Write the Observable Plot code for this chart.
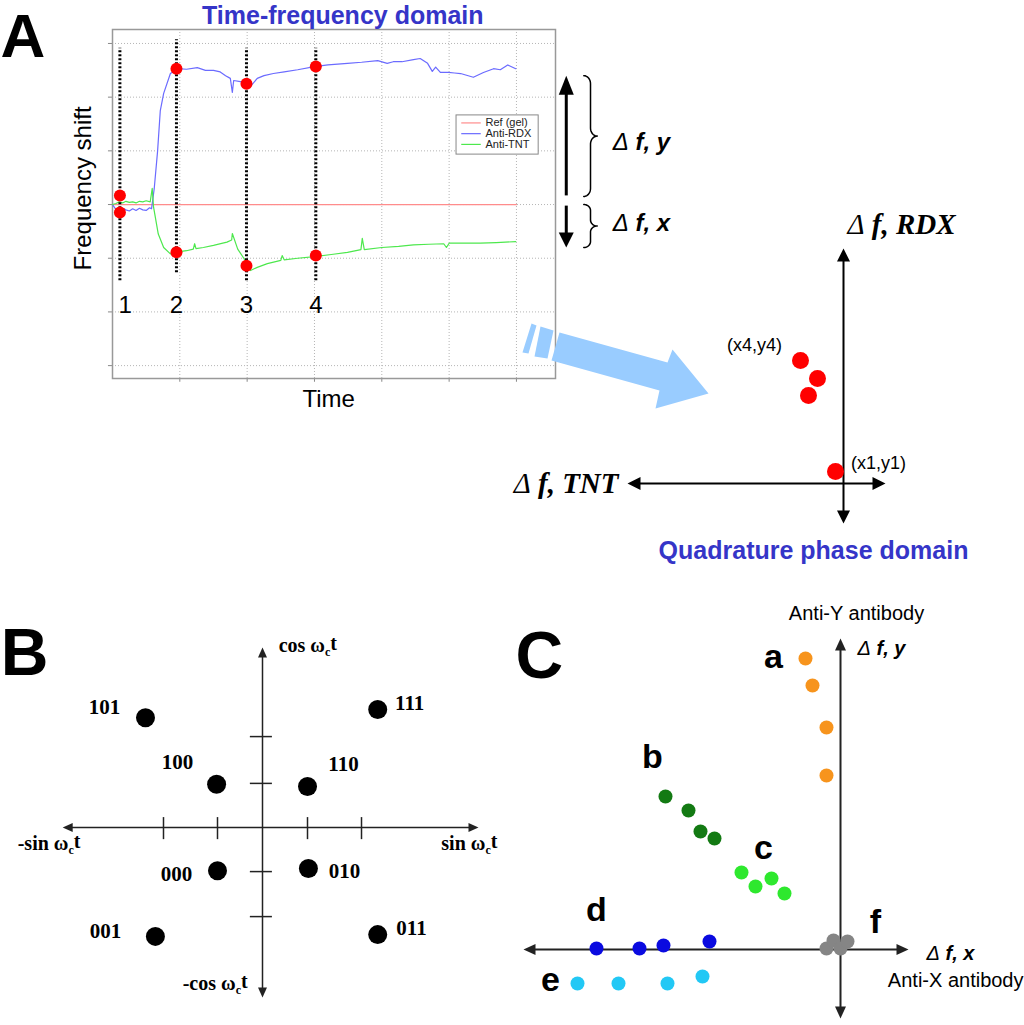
<!DOCTYPE html>
<html><head><meta charset="utf-8">
<script src="https://cdn.jsdelivr.net/npm/d3@7"></script>
<script src="https://cdn.jsdelivr.net/npm/@observablehq/plot@0.6"></script>
<style>
html,body{margin:0;padding:0;background:#fff;overflow:hidden;}
#fig{position:relative;width:1024px;height:1025px;overflow:hidden;}
#fig svg{position:absolute;overflow:visible;background:transparent;max-width:none;}
</style></head><body><div id="fig"></div>
<script>
// ================= DATA =================
// Panel A (left): time-frequency traces, time and shift in grid units
const refTime = [0, 6];
const refShift = [0, 0];
const rdxTime = [0,0.05,0.1,0.15,0.2,0.25,0.3,0.35,0.4,0.45,0.5,0.55,0.58,0.62,0.67,0.71,0.76,0.86,0.97,1.1,1.26,1.38,1.5,1.6,1.68,1.75,1.78,1.8,1.9,1.99,2.05,2.15,2.25,2.39,2.55,2.75,3.0,3.2,3.49,3.7,3.94,4.08,4.17,4.3,4.47,4.57,4.68,4.75,4.8,4.87,4.99,5.08,5.17,5.36,5.51,5.66,5.76,5.87,5.99];
const rdxShift = [0,-0.09,-0.11,-0.07,-0.1,-0.12,-0.08,-0.11,-0.07,-0.1,-0.11,-0.06,-0.08,0.3,1.0,1.75,2.07,2.44,2.53,2.52,2.55,2.5,2.5,2.47,2.4,2.35,2.09,2.31,2.29,2.25,2.2,2.35,2.4,2.44,2.47,2.51,2.57,2.6,2.63,2.65,2.68,2.63,2.66,2.66,2.7,2.72,2.63,2.48,2.56,2.46,2.46,2.45,2.44,2.37,2.46,2.53,2.51,2.6,2.53];
const tntTime = [0,0.05,0.1,0.15,0.2,0.25,0.3,0.35,0.4,0.45,0.5,0.56,0.59,0.61,0.68,0.76,0.86,0.97,1.1,1.2,1.22,1.24,1.35,1.5,1.7,1.77,1.78,1.86,1.95,2.05,2.15,2.3,2.5,2.52,2.55,2.75,3.0,3.25,3.49,3.69,3.71,3.74,4.0,4.25,4.47,4.7,4.92,4.96,5.0,5.2,5.46,5.7,5.99];
const tntShift = [0,0.02,0.05,0.03,0.06,0.04,0.05,0.03,0.06,0.05,0.07,0.05,0.3,-0.05,-0.55,-0.8,-0.92,-0.88,-0.86,-0.83,-0.73,-0.82,-0.8,-0.76,-0.7,-0.66,-0.54,-0.83,-1.0,-1.23,-1.17,-1.1,-1.04,-0.95,-1.03,-1.0,-0.97,-0.93,-0.89,-0.84,-0.63,-0.84,-0.8,-0.78,-0.75,-0.74,-0.73,-0.8,-0.72,-0.72,-0.72,-0.71,-0.69];
const gridTimes = [1, 2, 3, 4, 5, 6];
const gridShifts = [-3, -2, -1, 0, 1, 2, 3];
const sampleLabels = ["1", "2", "3", "4"];
const sampleTime = [0.11, 0.95, 1.99, 3.02];
const sampleLabelTime = [0.19, 0.95, 1.99, 3.02];
const sampleRdx = [-0.15, 2.53, 2.25, 2.57];
const sampleTnt = [0.17, -0.89, -1.14, -0.95];
const markerTop = [2.91, 3.07, 2.91, 2.91];
const markerBottom = [-1.42, -1.27, -1.42, -1.42];
const legendNames = ["Ref (gel)", "Anti-RDX", "Anti-TNT"];
const legendColors = ["#ff8c8c", "#6b6bff", "#4de84d"];

// Panel A (right): quadrature phase domain
const quadX = [-4.3, -2.6, -3.5, -0.8];
const quadY = [12.3, 10.5, 8.8, 1.2];
const quadLabels = ["(x4,y4)", "(x1,y1)"];
const quadLabelX = [-8.9, 3.5];
const quadLabelY = [13.8, 2.0];

// Panel B: 8-point constellation
const constLabels = ["101", "100", "110", "111", "000", "010", "001", "011"];
const constX = [-2.6, -1.02, 1.0, 2.56, -1.0, 1.02, -2.38, 2.56];
const constY = [2.44, 0.96, 0.91, 2.62, -0.96, -0.91, -2.42, -2.38];
const constLabelX = [-3.51, -1.89, 1.8, 3.27, -1.91, 1.82, -3.49, 3.31];
const constLabelY = [2.67, 1.44, 1.4, 2.76, -1.04, -0.98, -2.31, -2.24];
const bTicksX = [-2.2, -1, 1, 2.2];
const bTicksY = [-1.98, -0.98, 0.98, 2.02];

// Panel C: antibody responses
const groupNames = ["a", "b", "c", "d", "e", "f"];
const groupColors = ["#f7941d", "#137a13", "#2ee82e", "#0a0ae0", "#22c8f5", "#858585"];
const groupX = [[-3.5,-2.8,-1.4,-1.4],[-17.5,-15.2,-14.0,-12.6],[-9.9,-8.5,-6.9,-5.6],[-24.4,-20.1,-17.7,-13.1],[-26.3,-22.2,-17.3,-13.8],[-1.4,-0.7,0,0.7]];
const groupY = [[29.1,26.4,22.2,17.4],[15.3,13.9,11.8,11.1],[7.7,6.3,7.1,5.6],[0.1,0.1,0.4,0.8],[-3.4,-3.4,-3.4,-2.7],[0.1,0.9,0.1,0.8]];
const groupLabelX = [-6.7, -18.8, -7.7, -24.4, -29, 3.5];
const groupLabelY = [29.2, 19.2, 10.1, 3.9, -3.1, 2.7];

// ================= HELPERS =================
const SANS = "Liberation Sans, Arial, sans-serif";
const SERIF = "Liberation Serif, Times New Roman, serif";
const STYLE = {fontFamily: SANS, background: "transparent", overflow: "visible"};
const rows = (xs, ys, extra = {}) => xs.map((x, i) => ({x, y: ys[i], ...extra}));

function arrowMarks(list, kx, ky, {headLen, headW, width, color}) {
  const segs = [], tris = [];
  list.forEach((a, i) => {
    const dxp = (a.x2 - a.x1) * kx, dyp = (a.y2 - a.y1) * ky;
    const L = Math.hypot(dxp, dyp), ux = dxp / L, uy = dyp / L;
    const head = (tx, ty, sx, sy, id) => {
      const bx = tx - sx * headLen / kx, by = ty - sy * headLen / ky;
      const px = -sy * headW / 2, py = sx * headW / 2;
      tris.push({x: tx, y: ty, id}, {x: bx + px / kx, y: by + py / ky, id}, {x: bx - px / kx, y: by - py / ky, id});
      return {x: tx - sx * headLen * 0.6 / kx, y: ty - sy * headLen * 0.6 / ky};
    };
    const e = head(a.x2, a.y2, ux, uy, "e" + i);
    const s = a.both ? head(a.x1, a.y1, -ux, -uy, "s" + i) : {x: a.x1, y: a.y1};
    segs.push({x1: s.x, y1: s.y, x2: e.x, y2: e.y});
  });
  return [
    Plot.link(segs, {x1: "x1", y1: "y1", x2: "x2", y2: "y2", stroke: color, strokeWidth: width}),
    Plot.line(tris, {x: "x", y: "y", z: "id", fill: color, stroke: "none"})
  ];
}

function bracePts(x0, x1, yTop, yBot, ry, id) {
  const xm = (x0 + x1) / 2, ym = (yTop + yBot) / 2, rx = (x1 - x0) / 2, pts = [];
  const arc = (cx, cy, a0, a1) => {
    for (let i = 0; i <= 10; i++) {
      const a = (a0 + (a1 - a0) * i / 10) * Math.PI / 180;
      pts.push({x: cx + rx * Math.cos(a), y: cy + ry * Math.sin(a), id});
    }
  };
  arc(x0, yTop - ry, 90, 0);
  arc(x1, ym + ry, 180, 270);
  arc(x1, ym - ry, 90, 180);
  arc(x0, yBot + ry, 0, -90);
  return pts;
}

function fixText(svg) {
  d3.select(svg).selectAll("text").each(function () {
    const el = d3.select(this);
    const s = this.textContent;
    if (s.includes("ωct")) {
      const [pre, post] = s.split("ωct");
      el.text(null);
      el.append("tspan").text(pre + "ω");
      el.append("tspan").attr("font-size", "60%").attr("dy", "0.3em").text("c");
      el.append("tspan").attr("dy", "-0.3em").text("t" + post);
    } else if (s.startsWith("Δ")) {
      el.text(null);
      el.append("tspan").attr("font-weight", "normal").text("Δ");
      el.append("tspan").text(s.slice(1));
    }
  });
}

function place(svg, left, top) {
  fixText(svg);
  svg.style.left = left + "px";
  svg.style.top = top + "px";
  document.getElementById("fig").appendChild(svg);
}

// ================= PANEL A (left) =================
{
  const kx = 67.33, ky = 53.67;
  const ref = rows(refTime, refShift);
  const rdx = rows(rdxTime, rdxShift);
  const tnt = rows(tntTime, tntShift);
  const markers = sampleTime.map((t, i) => ({t, top: markerTop[i], bottom: markerBottom[i]}));
  const dots = [...rows(sampleTime, sampleRdx), ...rows(sampleTime, sampleTnt)];
  const legend = legendNames.map((n, i) => ({n, c: legendColors[i], y: [1.52, 1.32, 1.12][i]}));
  const braces = [...bracePts(7.0, 7.2, 2.40, 0.15, 0.15, "b1"), ...bracePts(7.0, 7.2, 0.0, -0.80, 0.11, "b2")];
  const svg = Plot.plot({
    width: 720, height: 420, marginLeft: 112, marginTop: 29, marginRight: 165, marginBottom: 42,
    x: {domain: [0, 6.58], axis: null},
    y: {domain: [-3.24, 3.26], axis: null},
    color: {type: "identity"},
    style: STYLE,
    marks: [
      Plot.ruleX(gridTimes, {y1: -3.24, y2: 3.26, stroke: "#b5b5b5", strokeDasharray: "1,2"}),
      Plot.ruleY(gridShifts, {x1: 0, x2: 6.58, stroke: "#b5b5b5", strokeDasharray: "1,2"}),
      Plot.ruleY(gridShifts, {x1: -0.06, x2: 0, stroke: "#888"}),
      Plot.ruleX(gridTimes, {y1: -3.24, y2: -3.31, stroke: "#888"}),
      Plot.frame({stroke: "#999", strokeWidth: 1.5}),
      Plot.line(ref, {x: "x", y: "y", stroke: legendColors[0], strokeWidth: 1.2}),
      Plot.line(rdx, {x: "x", y: "y", stroke: legendColors[1], strokeWidth: 1.2}),
      Plot.line(tnt, {x: "x", y: "y", stroke: legendColors[2], strokeWidth: 1.2}),
      Plot.ruleX(markers, {x: "t", y1: "bottom", y2: "top", stroke: "#000", strokeWidth: 3, strokeDasharray: "2,2"}),
      Plot.dot(dots, {x: "x", y: "y", r: 6, fill: "#ff0000"}),
      Plot.text(sampleLabels, {x: (d, i) => sampleLabelTime[i], y: -1.88, text: d => d, fontSize: 24, fill: "#000"}),
      Plot.rect([0], {x1: 5.11, x2: 6.33, y1: 0.93, y2: 1.66, fill: "white", stroke: "#888"}),
      Plot.link(legend, {x1: 5.18, x2: 5.47, y1: "y", y2: "y", stroke: "c", strokeWidth: 1.2}),
      Plot.text(legend, {x: 5.54, y: "y", text: "n", textAnchor: "start", fontSize: 11, fill: "#222"}),
      Plot.text(["Frequency shift"], {x: -0.43, y: 0.3, text: d => d, rotate: -90, fontSize: 24, fill: "#000"}),
      Plot.text(["Time"], {x: 3.21, y: -3.63, text: d => d, fontSize: 24, fill: "#000"}),
      Plot.text(["Time-frequency domain"], {x: 3.42, y: 3.52, text: d => d, fontSize: 25, fontWeight: "bold", fill: "#3535c8"}),
      Plot.text(["A"], {x: -1.663, y: 2.757, text: d => d, lineAnchor: "bottom", textAnchor: "start", fontSize: 62, fontWeight: "bold", fill: "#000"}),
      ...arrowMarks([{x1: 6.74, y1: 0.17, x2: 6.74, y2: 2.40}], kx, ky, {headLen: 19, headW: 15, width: 3, color: "#000"}),
      ...arrowMarks([{x1: 6.74, y1: -0.02, x2: 6.74, y2: -0.80}], kx, ky, {headLen: 15, headW: 15, width: 3, color: "#000"}),
      Plot.line(braces, {x: "x", y: "y", z: "id", stroke: "#000", strokeWidth: 1.5}),
      Plot.text(["Δ f, y", "Δ f, x"], {x: 7.43, y: (d, i) => [1.16, -0.35][i], text: d => d, textAnchor: "start", fontSize: 24, fontWeight: "bold", fontStyle: "italic", fill: "#000"})
    ]
  });
  place(svg, 0, 0);
}

// ================= PANEL A (right): quadrature =================
{
  const k = 10;
  const arrowBody = [
    {x: -28.4, y: 15.1}, {x: -17.6, y: 12.1}, {x: -17.1, y: 13.4}, {x: -13.5, y: 9.0},
    {x: -18.8, y: 7.5}, {x: -18.4, y: 9.3}, {x: -29.2, y: 12.3}
  ].map(p => ({...p, id: "body"}));
  const stripe1 = [{x: -31.2, y: 16.0}, {x: -30.7, y: 15.8}, {x: -31.5, y: 13.0}, {x: -32.1, y: 13.1}].map(p => ({...p, id: "s1"}));
  const stripe2 = [{x: -30.3, y: 15.7}, {x: -29.0, y: 15.3}, {x: -29.6, y: 12.5}, {x: -30.9, y: 12.7}].map(p => ({...p, id: "s2"}));
  const svg = Plot.plot({
    width: 534, height: 370, margin: 0,
    x: {domain: [-35.3, 18.1], axis: null},
    y: {domain: [-8.7, 28.3], axis: null},
    style: STYLE,
    marks: [
      Plot.line([...arrowBody, ...stripe1, ...stripe2], {x: "x", y: "y", z: "id", fill: "#99ccff", stroke: "none"}),
      ...arrowMarks([
        {x1: 0, y1: -4.0, x2: 0, y2: 23.5, both: true},
        {x1: -21.6, y1: 0, x2: 4.2, y2: 0, both: true}
      ], k, k, {headLen: 13, headW: 13, width: 2, color: "#000"}),
      Plot.dot(rows(quadX, quadY), {x: "x", y: "y", r: 8.5, fill: "#ff0000"}),
      Plot.text(quadLabels, {x: (d, i) => quadLabelX[i], y: (d, i) => quadLabelY[i], text: d => d, fontSize: 18, fill: "#000"}),
      Plot.text(["Δ f, RDX"], {x: 0.4, y: 25.9, text: d => d, textAnchor: "start", fontFamily: SERIF, fontSize: 29, fontWeight: "bold", fontStyle: "italic", fill: "#000"}),
      Plot.text(["Δ f, TNT"], {x: -22.5, y: 0, text: d => d, textAnchor: "end", fontFamily: SERIF, fontSize: 29, fontWeight: "bold", fontStyle: "italic", fill: "#000"}),
      Plot.text(["Quadrature phase domain"], {x: -3.0, y: -6.7, text: d => d, fontSize: 25, fontWeight: "bold", fill: "#3535c8"})
    ]
  });
  place(svg, 490, 200);
}

// ================= PANEL B =================
{
  const k = 45;
  const svg = Plot.plot({
    width: 520, height: 425, margin: 0,
    x: {domain: [-5.822, 5.733], axis: null},
    y: {domain: [-4.4, 5.044], axis: null},
    style: STYLE,
    marks: [
      ...arrowMarks([
        {x1: 0, y1: -3.78, x2: 0, y2: 4.0, both: true},
        {x1: -4.44, y1: 0, x2: 4.8, y2: 0, both: true}
      ], k, k, {headLen: 10, headW: 9, width: 1.5, color: "#222"}),
      Plot.ruleX(bTicksX, {y1: -0.27, y2: 0.22, stroke: "#222", strokeWidth: 1.5}),
      Plot.ruleY(bTicksY, {x1: -0.27, x2: 0.22, stroke: "#222", strokeWidth: 1.5}),
      Plot.dot(rows(constX, constY), {x: "x", y: "y", r: 9.5, fill: "#000"}),
      Plot.text(constLabels, {x: (d, i) => constLabelX[i], y: (d, i) => constLabelY[i], text: d => d, fontFamily: SERIF, fontWeight: "bold", fontSize: 21, fill: "#000"}),
      Plot.text(["cos ωct"], {x: 0.36, y: 4.04, text: d => d, textAnchor: "start", fontFamily: SERIF, fontWeight: "bold", fontSize: 20, fill: "#000"}),
      Plot.text(["-sin ωct"], {x: -5.44, y: -0.36, text: d => d, textAnchor: "start", fontFamily: SERIF, fontWeight: "bold", fontSize: 20, fill: "#000"}),
      Plot.text(["sin ωct"], {x: 5.22, y: -0.36, text: d => d, textAnchor: "end", fontFamily: SERIF, fontWeight: "bold", fontSize: 20, fill: "#000"}),
      Plot.text(["-cos ωct"], {x: -0.33, y: -3.47, text: d => d, textAnchor: "end", fontFamily: SERIF, fontWeight: "bold", fontSize: 20, fill: "#000"}),
      Plot.text(["B"], {x: -5.815, y: 3.38, text: d => d, lineAnchor: "bottom", textAnchor: "start", fontSize: 66, fontWeight: "bold", fill: "#000"})
    ]
  });
  place(svg, 0, 600);
}

// ================= PANEL C =================
{
  const k = 10;
  const pts = groupNames.flatMap((g, gi) => rows(groupX[gi], groupY[gi], {c: groupColors[gi]}));
  const svg = Plot.plot({
    width: 514, height: 425, margin: 0,
    x: {domain: [-33, 18.4], axis: null},
    y: {domain: [-7.6, 34.9], axis: null},
    color: {type: "identity"},
    style: STYLE,
    marks: [
      ...arrowMarks([
        {x1: 0, y1: -6.9, x2: 0, y2: 31.1, both: true},
        {x1: -31.7, y1: 0, x2: 6.8, y2: 0, both: true}
      ], k, k, {headLen: 12, headW: 11, width: 2, color: "#222"}),
      Plot.dot(pts, {x: "x", y: "y", r: 7, fill: "c"}),
      Plot.text(groupNames, {x: (d, i) => groupLabelX[i], y: (d, i) => groupLabelY[i], text: d => d, fontSize: 34, fontWeight: "bold", fill: "#000"}),
      Plot.text(["Anti-Y antibody"], {x: 1.6, y: 33.6, text: d => d, fontSize: 20, fill: "#000"}),
      Plot.text(["Anti-X antibody"], {x: 18.3, y: -3.1, text: d => d, textAnchor: "end", fontSize: 20, fill: "#000"}),
      Plot.text(["Δ f, y"], {x: 1.7, y: 30.1, text: d => d, textAnchor: "start", fontSize: 20, fontWeight: "bold", fontStyle: "italic", fill: "#000"}),
      Plot.text(["Δ f, x"], {x: 8.6, y: -0.4, text: d => d, textAnchor: "start", fontSize: 20, fontWeight: "bold", fontStyle: "italic", fill: "#000"}),
      Plot.text(["C"], {x: -32.5, y: 27.2, text: d => d, lineAnchor: "bottom", textAnchor: "start", fontSize: 66, fontWeight: "bold", fill: "#000"})
    ]
  });
  place(svg, 510, 600);
}
</script></body></html>
